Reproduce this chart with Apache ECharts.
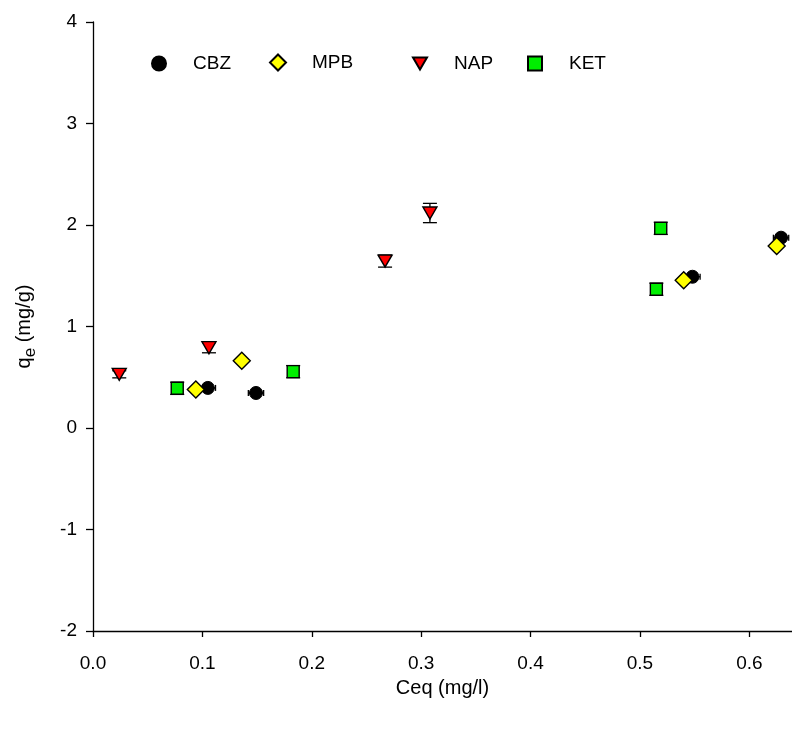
<!DOCTYPE html>
<html>
<head>
<meta charset="utf-8">
<script src="https://cdn.jsdelivr.net/npm/echarts@6/dist/echarts.min.js"></script>
<style>
  html, body { margin: 0; padding: 0; background: #fff; }
  #chart { width: 792px; height: 729px; }
</style>
</head>
<body>
<div id="chart"></div>
<script>
// Equilibrium concentration (mg/l) and adsorbed amount (mg/g) per compound
const cbzX = [0.105, 0.149, 0.548, 0.629];
const cbzY = [0.395, 0.345, 1.49, 1.875];
const cbzXErr = [0.007, 0.007, 0.007, 0.007];
const cbzYErr = [0, 0, 0, 0];

const mpbX = [0.094, 0.136, 0.540, 0.625];
const mpbY = [0.38, 0.663, 1.455, 1.793];
const mpbXErr = [0, 0, 0, 0];
const mpbYErr = [0, 0, 0, 0];

const napX = [0.024, 0.106, 0.267, 0.308];
const napY = [0.529, 0.791, 1.645, 2.118];
const napXErr = [0, 0, 0, 0];
const napYErr = [0.035, 0.05, 0.06, 0.095];

const ketX = [0.077, 0.183, 0.519, 0.515];
const ketY = [0.391, 0.555, 1.967, 1.367];
const ketXErr = [0, 0, 0, 0];
const ketYErr = [0.06, 0.06, 0.06, 0.06];

const xTicks = [0.0, 0.1, 0.2, 0.3, 0.4, 0.5, 0.6];
const yTicks = [-2, -1, 0, 1, 2, 3, 4];

const FONT = "'Liberation Sans', Arial, sans-serif";

const pts = (xs, ys) => xs.map((x, i) => [x, ys[i]]);
const errs = (xs, ys, ex, ey) => xs.map((x, i) => [x, ys[i], ex[i], ey[i]]);

const triDown = 'path://M0,0 L14,0 L7,12 Z';

function errorBars(params, api) {
  const x = api.value(0), y = api.value(1), ex = api.value(2), ey = api.value(3);
  const cap = 7;
  const st = { stroke: '#000', lineWidth: 1.3 };
  const children = [];
  if (ey > 0) {
    const t = api.coord([x, y + ey]);
    const b = api.coord([x, y - ey]);
    children.push({ type: 'line', shape: { x1: t[0], y1: t[1], x2: b[0], y2: b[1] }, style: st });
    children.push({ type: 'line', shape: { x1: t[0] - cap, y1: t[1], x2: t[0] + cap, y2: t[1] }, style: st });
    children.push({ type: 'line', shape: { x1: b[0] - cap, y1: b[1], x2: b[0] + cap, y2: b[1] }, style: st });
  }
  if (ex > 0) {
    const l = api.coord([x - ex, y]);
    const r = api.coord([x + ex, y]);
    const c = 3;
    children.push({ type: 'line', shape: { x1: l[0], y1: l[1], x2: r[0], y2: r[1] }, style: st });
    children.push({ type: 'line', shape: { x1: l[0], y1: l[1] - c, x2: l[0], y2: l[1] + c }, style: st });
    children.push({ type: 'line', shape: { x1: r[0], y1: r[1] - c, x2: r[0], y2: r[1] + c }, style: st });
  }
  return { type: 'group', children };
}

function errSeries(data) {
  return {
    type: 'custom',
    renderItem: errorBars,
    data,
    z: 1,
    silent: true,
    clip: false
  };
}

// One legend per entry so each icon/label pair sits at its own spot
function legendAt(name, left, box) {
  const s = box || 14;
  return {
    data: [name],
    left,
    top: 61 - s / 2,
    padding: 0,
    itemWidth: s,
    itemHeight: s,
    selectedMode: false,
    textStyle: { fontFamily: FONT, fontSize: 19, color: '#000', padding: [0, 0, 0, 29 - s / 2] }
  };
}

const chart = echarts.init(document.getElementById('chart'), null, { renderer: 'canvas' });

chart.setOption({
  animation: false,
  backgroundColor: '#fff',
  grid: { left: 93, right: 0, top: 22, bottom: 98, containLabel: false },
  legend: [
    legendAt('CBZ', 151, 14),
    legendAt('MPB', 269, 16),
    legendAt('NAP', 412, 14),
    legendAt('KET', 527, 14)
  ],
  xAxis: {
    type: 'value',
    min: 0,
    max: 0.639,
    name: 'Ceq (mg/l)',
    nameLocation: 'middle',
    nameGap: 47,
    nameTextStyle: { fontFamily: FONT, fontSize: 20, color: '#000' },
    splitLine: { show: false },
    axisLine: { onZero: false, lineStyle: { color: '#000', width: 1.3 } },
    axisTick: { inside: false, length: 6, lineStyle: { color: '#000', width: 1.3 }, customValues: xTicks },
    axisLabel: {
      customValues: xTicks,
      margin: 23,
      fontFamily: FONT, fontSize: 19, color: '#000',
      formatter: v => v.toFixed(1)
    }
  },
  yAxis: {
    type: 'value',
    min: -2,
    max: 4,
    interval: 1,
    name: '{q|q}{e|e}{q| (mg/g)}',
    nameLocation: 'middle',
    nameRotate: 90,
    nameGap: 54,
    nameTextStyle: {
      fontFamily: FONT, fontSize: 20, color: '#000',
      rich: {
        q: { fontFamily: FONT, fontSize: 20, color: '#000', lineHeight: 30, verticalAlign: 'middle' },
        e: { fontFamily: FONT, fontSize: 17, color: '#000', lineHeight: 30, verticalAlign: 'bottom' }
      }
    },
    splitLine: { show: false },
    axisLine: { onZero: false, lineStyle: { color: '#000', width: 1.3 } },
    axisTick: { inside: false, length: 7, lineStyle: { color: '#000', width: 1.3 }, customValues: yTicks },
    axisLabel: { customValues: yTicks, margin: 16, fontFamily: FONT, fontSize: 19, color: '#000' }
  },
  series: [
    errSeries(errs(cbzX, cbzY, cbzXErr, cbzYErr)),
    errSeries(errs(mpbX, mpbY, mpbXErr, mpbYErr)),
    errSeries(errs(napX, napY, napXErr, napYErr)),
    errSeries(errs(ketX, ketY, ketXErr, ketYErr)),
    {
      name: 'CBZ', type: 'scatter', data: pts(cbzX, cbzY), z: 3,
      symbol: 'circle', symbolSize: 13,
      itemStyle: { color: '#000', borderColor: '#000', borderWidth: 1, opacity: 1 }
    },
    {
      name: 'MPB', type: 'scatter', data: pts(mpbX, mpbY), z: 4,
      symbol: 'diamond', symbolSize: 17,
      itemStyle: { color: '#ffff00', borderColor: '#000', borderWidth: 1.4, opacity: 1 }
    },
    {
      name: 'NAP', type: 'scatter', data: pts(napX, napY), z: 3,
      symbol: triDown, symbolSize: [14, 12],
      itemStyle: { color: '#ff0000', borderColor: '#000', borderWidth: 1.4, opacity: 1 }
    },
    {
      name: 'KET', type: 'scatter', data: pts(ketX, ketY), z: 3,
      symbol: 'rect', symbolSize: 12,
      itemStyle: { color: '#00ee00', borderColor: '#000', borderWidth: 1.4, opacity: 1 }
    }
  ]
});
</script>
</body>
</html>
